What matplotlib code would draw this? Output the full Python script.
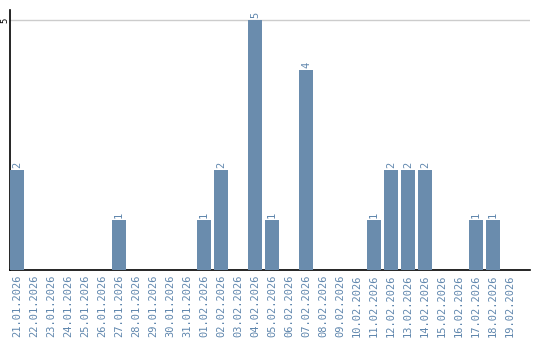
import matplotlib
matplotlib.use('Agg')
import matplotlib.pyplot as plt
import numpy as np

dates = ['21.01.2026', '22.01.2026', '23.01.2026', '24.01.2026', '25.01.2026',
         '26.01.2026', '27.01.2026', '28.01.2026', '29.01.2026', '30.01.2026',
         '31.01.2026', '01.02.2026', '02.02.2026', '03.02.2026', '04.02.2026',
         '05.02.2026', '06.02.2026', '07.02.2026', '08.02.2026', '09.02.2026',
         '10.02.2026', '11.02.2026', '12.02.2026', '13.02.2026', '14.02.2026',
         '15.02.2026', '16.02.2026', '17.02.2026', '18.02.2026', '19.02.2026']
counts = [2, 0, 0, 0, 0, 0, 1, 0, 0, 0,
          0, 1, 2, 0, 5, 1, 0, 4, 0, 0,
          0, 1, 2, 2, 2, 0, 0, 1, 1, 0]

bar_color = '#6a8cad'
label_color = '#5f86ad'

fig = plt.figure(figsize=(5.4, 3.4), dpi=100)
ax = fig.add_axes([10/540, 70/340, 520/540, 260/340])

x = np.arange(len(dates))
ax.bar(x, counts, width=0.82, color=bar_color, zorder=3)

for i, c in enumerate(counts):
    if c > 0:
        ax.text(i, c + 0.05, str(c), rotation=90, ha='center', va='bottom',
                color=label_color, fontsize=7.5, family='DejaVu Sans Mono')

ax.set_xlim(-0.41, 30.18)
ax.set_ylim(0, 5.2)
ax.set_xticks(x)
ax.set_xticklabels(dates, rotation=90, color=label_color, fontsize=7.5,
                   family='DejaVu Sans Mono')
ax.set_yticks([5])
ax.set_yticklabels(['5'], rotation=90, va='center', ha='center', fontsize=6.5,
                   family='DejaVu Sans Mono')
ax.tick_params(axis='both', length=0, pad=3)
ax.tick_params(axis='y', pad=3.5)
ax.axhline(5, color='#cccccc', linewidth=1, zorder=1)

ax.spines['top'].set_visible(False)
ax.spines['right'].set_visible(False)
ax.spines['left'].set_linewidth(1.2)
ax.spines['bottom'].set_linewidth(1.2)

fig.savefig('out.png', dpi=100)
